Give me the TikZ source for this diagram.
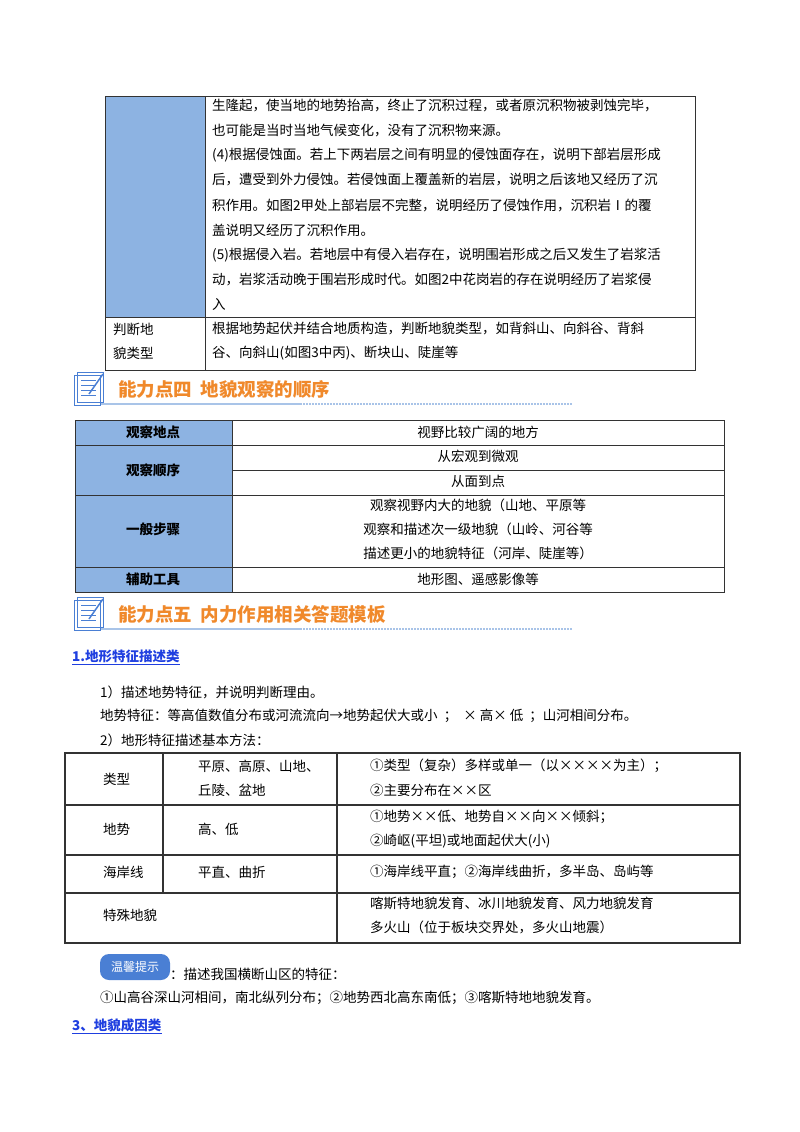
\documentclass[tikz,border=0pt]{standalone}
\usepackage{fontspec}
\setmainfont{Noto Sans CJK SC}
\definecolor{cellblue}{HTML}{8DB3E2}
\definecolor{headorange}{HTML}{F0892B}
\definecolor{linkblue}{HTML}{1F3FE0}
\definecolor{tipblue}{HTML}{4A7FD4}
\definecolor{rulelb}{HTML}{A9C4E8}
\begin{document}
\begin{tikzpicture}[x=1pt,y=-1pt,
  txt/.style={anchor=west,inner sep=0pt,font=\fontsize{13.5}{15}\selectfont},
  ctxt/.style={anchor=center,inner sep=0pt,font=\fontsize{13.5}{15}\selectfont},
  btxt/.style={anchor=center,inner sep=0pt,font=\fontsize{13.5}{15}\selectfont\bfseries},
  grid/.style={draw=black!80,line width=0.8pt},
  head/.style={anchor=west,inner sep=0pt,text=headorange,font=\fontsize{18.5}{20}\selectfont\bfseries},
  link/.style={anchor=west,inner sep=0pt,text=linkblue,font=\fontsize{13.5}{15}\selectfont\bfseries}]
\fill[white] (0,0) rectangle (800,1132);
\useasboundingbox (0,0) rectangle (800,1132);
% ---- top table
\fill[cellblue] (105,96) rectangle (205,317);
\draw[grid] (105,96) rectangle (695,370);
\draw[grid] (205,96) -- (205,370);
\draw[grid] (105,317) -- (695,317);
\node[txt] (t1) at (212,105) {生隆起，使当地的地势抬高，终止了沉积过程，或者原沉积物被剥蚀完毕，};
\node[txt] (t2) at (212,130) {也可能是当时当地气候变化，没有了沉积物来源。};
\node[txt] (t3) at (212,155) {(4)根据侵蚀面。若上下两岩层之间有明显的侵蚀面存在，说明下部岩层形成};
\node[txt] (t4) at (212,180) {后，遭受到外力侵蚀。若侵蚀面上覆盖新的岩层，说明之后该地又经历了沉};
\node[txt] (t5) at (212,205) {积作用。如图2甲处上部岩层不完整，说明经历了侵蚀作用，沉积岩Ⅰ的覆};
\node[txt] (t6) at (212,230) {盖说明又经历了沉积作用。};
\node[txt] (t7) at (212,255) {(5)根据侵入岩。若地层中有侵入岩存在，说明围岩形成之后又发生了岩浆活};
\node[txt] (t8) at (212,280) {动，岩浆活动晚于围岩形成时代。如图2中花岗岩的存在说明经历了岩浆侵};
\node[txt] (t9) at (212,304) {入};
\node[txt] (l1) at (113,329) {判断地};
\node[txt] (l2) at (113,353) {貌类型};
\node[txt] (r1) at (212,329) {根据地势起伏并结合地质构造，判断地貌类型，如背斜山、向斜谷、背斜};
\node[txt] (r2) at (212,353) {谷、向斜山(如图3中丙)、断块山、陡崖等};
% ---- headings
\foreach \yy/\name/\txtt in {372/h4/{能力点四\ \ 地貌观察的顺序},597/h5/{能力点五\ \ 内力作用相关答题模板}}{
  \draw[rulelb,line width=1.2pt] (80,\yy+32) -- (300,\yy+32);
  \draw[rulelb,line width=1.2pt,dash pattern=on 1.5pt off 1.5pt] (300,\yy+32) -- (572,\yy+32);
  \draw[tipblue,line width=1pt,fill=white] (74,\yy+3) rectangle (100,\yy+33);
  \draw[tipblue,line width=1pt] (77,\yy+0) rectangle (103,\yy+30);
  \foreach \k in {8,13,18,23} \draw[tipblue,line width=0.8pt] (81,\yy+\k) -- (96,\yy+\k);
  \draw[tipblue,line width=1.5pt] (89,\yy+22) -- (103,\yy+2);
  \node[head] (\name) at (118,\yy+17) {\txtt};
}
% ---- table 2
\fill[cellblue] (75,420) rectangle (232,592);
\draw[grid] (75,420) rectangle (724,592);
\draw[grid] (232,420) -- (232,592);
\draw[grid] (75,445) -- (724,445);
\draw[grid] (232,470) -- (724,470);
\draw[grid] (75,495) -- (724,495);
\draw[grid] (75,567) -- (724,567);
\node[btxt] (a1) at (153,432) {观察地点};
\node[btxt] (a2) at (153,470) {观察顺序};
\node[btxt] (a3) at (153,529) {一般步骤};
\node[btxt] (a4) at (153,579) {辅助工具};
\node[ctxt] (b1) at (478,432) {视野比较广阔的地方};
\node[ctxt] (b2) at (478,456) {从宏观到微观};
\node[ctxt] (b3) at (478,481) {从面到点};
\node[ctxt] (b4) at (478,505) {观察视野内大的地貌（山地、平原等};
\node[ctxt] (b5) at (478,529) {观察和描述次一级地貌（山岭、河谷等};
\node[ctxt] (b6) at (478,553) {描述更小的地貌特征（河岸、陡崖等）};
\node[ctxt] (b7) at (478,579) {地形图、遥感影像等};
% ---- section 1
\node[link] (s1) at (72,656) {1.地形特征描述类};
\draw[linkblue,line width=0.8pt] ([yshift=-2pt]s1.south west) -- ([yshift=-2pt]s1.south east);
\node[txt] (p1) at (100,692) {1）描述地势特征，并说明判断理由。};
\node[txt] (p2) at (100,716) {地势特征：等高值数值分布或河流流向→地势起伏大或小\ \ ；\ \ ×\ 高×\ 低\ \ ；山河相间分布。};
\node[txt] (p3) at (100,740) {2）地形特征描述基本方法：};
% ---- table 3
\draw[grid,line width=1.3pt] (65,753) rectangle (740,943);
\draw[grid,line width=1.1pt] (163,753) -- (163,893);
\draw[grid,line width=1.1pt] (337,753) -- (337,943);
\draw[grid,line width=1.1pt] (65,805) -- (740,805);
\draw[grid,line width=1.1pt] (65,855) -- (740,855);
\draw[grid,line width=1.1pt] (65,893) -- (740,893);
\node[txt] (c1) at (103,779) {类型};
\node[txt] (c2) at (198,766) {平原、高原、山地、};
\node[txt] (c3) at (198,790) {丘陵、盆地};
\node[txt] (c4) at (370,766) {①类型（复杂）多样或单一（以××××为主）；};
\node[txt] (c5) at (370,790) {②主要分布在××区};
\node[txt] (d1) at (103,829) {地势};
\node[txt] (d2) at (198,829) {高、低};
\node[txt] (d3) at (370,817) {①地势××低、地势自××向××倾斜；};
\node[txt] (d4) at (370,841) {②崎岖(平坦)或地面起伏大(小)};
\node[txt] (e1) at (103,872) {海岸线};
\node[txt] (e2) at (198,872) {平直、曲折};
\node[txt] (e3) at (370,872) {①海岸线平直；②海岸线曲折，多半岛、岛屿等};
\node[txt] (f1) at (103,915) {特殊地貌};
\node[txt] (f2) at (370,903) {喀斯特地貌发育、冰川地貌发育、风力地貌发育};
\node[txt] (f3) at (370,927) {多火山（位于板块交界处，多火山地震）};
% ---- tip
\node[fill=tipblue,rounded corners=9pt,minimum width=70pt,minimum height=26pt,inner sep=0pt,text=white,font=\fontsize{12}{13}\selectfont] (tip) at (135,967) {温馨提示};
\node[txt] (q1) at (170,974) {：描述我国横断山区的特征：};
\node[txt] (q2) at (100,998) {①山高谷深山河相间，南北纵列分布；②地势西北高东南低；③喀斯特地地貌发育。};
\node[link] (s3) at (72,1025) {3、地貌成因类};
\draw[linkblue,line width=0.8pt] ([yshift=-2pt]s3.south west) -- ([yshift=-2pt]s3.south east);
\end{tikzpicture}
\end{document}
